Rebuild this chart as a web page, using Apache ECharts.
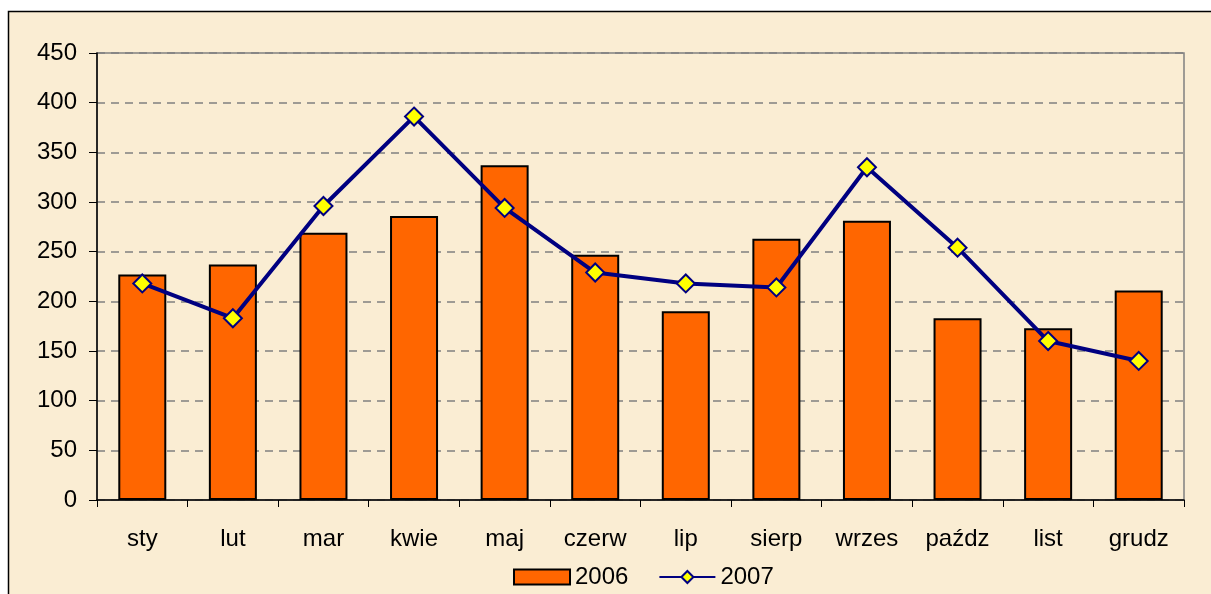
<!DOCTYPE html>
<html>
<head>
    <meta charset="utf-8" />
    <title></title>
    <script src="https://cdn.jsdelivr.net/npm/echarts@6/dist/echarts.min.js"></script>
    <style>
        html, body { margin: 0; padding: 0; background: #fff; }
    </style>
</head>
<body>
    <div id="main" style="width: 1211px;height:594px;"></div>
    <script type="text/javascript">
        // dane
        var months = ['sty', 'lut', 'mar', 'kwie', 'maj', 'czerw', 'lip', 'sierp', 'wrzes', 'paźdz', 'list', 'grudz'];
        var values2006 = [227, 237, 269, 286, 337, 247, 190, 263, 281, 183, 173, 211];
        var values2007 = [218, 183, 296, 386, 294, 229, 218, 214, 335, 254, 160, 140];
        var yTicks = { min: 0, max: 450, interval: 50 };

        var font = 'Liberation Sans, Arial, sans-serif';
        var myChart = echarts.init(document.getElementById('main'));

        var option = {
            backgroundColor: '#ffffff',
            animation: false,
            graphic: [{
                type: 'rect',
                z: -10,
                shape: { x: 8.5, y: 11.5, width: 1240, height: 620 },
                style: { fill: '#FAEDD3', stroke: '#000', lineWidth: 1.5 }
            }],
            grid: {
                left: 97, right: 27, top: 53, bottom: 94,
                show: true,
                backgroundColor: 'transparent',
                borderColor: '#808080',
                borderWidth: 1.5
            },
            legend: {
                left: 508,
                top: 560,
                itemWidth: 56,
                itemHeight: 15,
                itemGap: 30,
                textStyle: { fontFamily: font, fontSize: 24, color: '#000' },
                data: [{ name: '2006', icon: 'rect' }, { name: '2007' }]
            },
            xAxis: {
                type: 'category',
                data: months,
                axisLine: { lineStyle: { color: '#000', width: 1.5 } },
                axisTick: { show: true, length: 7, alignWithLabel: false, lineStyle: { color: '#000' } },
                axisLabel: { color: '#000', fontFamily: font, fontSize: 24, margin: 27 },
                splitLine: { show: false }
            },
            yAxis: {
                type: 'value',
                min: yTicks.min,
                max: yTicks.max,
                interval: yTicks.interval,
                axisLine: { show: true, lineStyle: { color: '#000', width: 1.5 } },
                axisTick: { show: true, length: 8, lineStyle: { color: '#000' } },
                axisLabel: { color: '#000', fontFamily: font, fontSize: 24, margin: 20 },
                splitLine: { show: true, lineStyle: { color: '#808080', width: 1.5, type: [8, 6] } }
            },
            series: [
                {
                    name: '2006',
                    type: 'bar',
                    data: values2006,
                    barCategoryGap: '47%',
                    itemStyle: { color: '#FF6600', borderColor: '#000', borderWidth: 2 }
                },
                {
                    name: '2007',
                    type: 'line',
                    data: values2007,
                    symbol: 'diamond',
                    symbolSize: 18,
                    lineStyle: { color: '#000080', width: 4 },
                    itemStyle: { color: '#FFFF00', borderColor: '#000080', borderWidth: 2 }
                }
            ]
        };
        myChart.setOption(option);
    </script>
</body>
</html>
